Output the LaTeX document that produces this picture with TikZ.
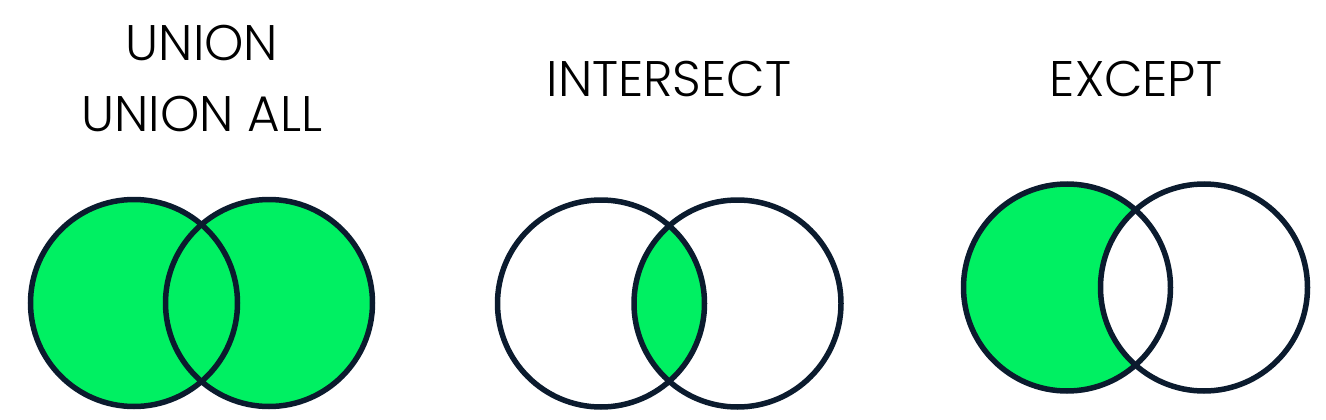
\documentclass[tikz,border=0pt]{standalone}
\usepackage{fontspec}
\setmainfont{Poppins}[UprightFont=* Light]
\usepackage{xcolor}
\definecolor{setgreen}{HTML}{00F062}
\definecolor{setline}{HTML}{0B1B2E}

\begin{document}
\begin{tikzpicture}[x=1pt,y=-1pt]
  \useasboundingbox (0,0) rectangle (1326,420);
  \tikzset{setring/.style={draw=setline, line width=5.5pt}}
  % titles
  \node[anchor=base, font=\fontsize{50}{50}\selectfont] (union) at (202,61) {UNION};
  \node[anchor=base, font=\fontsize{50}{50}\selectfont] (unionall) at (202,131) {UNION ALL};
  \node[anchor=base, font=\fontsize{50}{50}\selectfont] (intersect) at (669,96) {INTERSECT};
  \node[anchor=base, font=\fontsize{50}{50}\selectfont] (except) at (1136,96) {EXCEPT};
  % union: both sets filled
  \fill[setgreen] (134,303) circle (103.5) (269,303) circle (103.5);
  \draw[setring] (134,303) circle (103.5);
  \draw[setring] (269,303) circle (103.5);
  % intersect: only the lens
  \begin{scope}
    \clip (601,303.5) circle (103.5);
    \fill[setgreen] (737.5,303.5) circle (103.5);
  \end{scope}
  \draw[setring] (601,303.5) circle (103.5);
  \draw[setring] (737.5,303.5) circle (103.5);
  % except: left set minus right set
  \fill[setgreen] (1067,287.5) circle (103.5);
  \fill[white] (1204,287.5) circle (103.5);
  \draw[setring] (1067,287.5) circle (103.5);
  \draw[setring] (1204,287.5) circle (103.5);
\end{tikzpicture}
\end{document}
